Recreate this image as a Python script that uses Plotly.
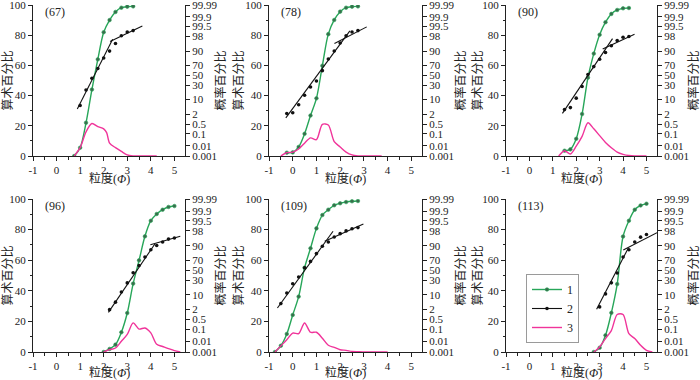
import plotly.graph_objects as go
from statistics import NormalDist

_nd = NormalDist()


def probit(pct):
    return _nd.inv_cdf(pct / 100.0)


panel_names = ["(67)", "(78)", "(90)", "(96)", "(109)", "(113)"]

# ---- curve 1 (cumulative %, also plotted as points 2 on probability scale)
phi_67 = [0.75, 1.0, 1.25, 1.5, 1.75, 2.0, 2.25, 2.5, 2.75, 3.0, 3.25]
cum_67 = [0, 5.5, 22, 44, 64, 82, 90, 95.4, 98.2, 98.9, 99.1]
phi_78 = [-0.25, 0.0, 0.25, 0.5, 0.75, 1.0, 1.25, 1.5, 1.75, 2.0, 2.25, 2.5, 2.75]
cum_78 = [2.2, 2.4, 6, 14.7, 26.8, 38.2, 59.8, 80.7, 90.1, 95.6, 98.2, 98.9, 99.1]
phi_90 = [1.5, 1.75, 2.0, 2.25, 2.5, 2.75, 3.0, 3.25, 3.5, 3.75, 4.0, 4.25]
cum_90 = [3.5, 4.4, 11.4, 27.8, 51.9, 67.8, 80.3, 88.6, 94.1, 96.7, 97.8, 98.0]
phi_96 = [2.0, 2.25, 2.5, 2.75, 3.0, 3.25, 3.5, 3.75, 4.0, 4.25, 4.5, 4.75, 5.0]
cum_96 = [0, 2, 4.8, 12.9, 25.5, 44.7, 59.9, 75.6, 85.8, 90.2, 93, 94.8, 95.4]
phi_109 = [-0.75, -0.5, -0.25, 0.0, 0.25, 0.5, 0.75, 1.0, 1.25, 1.5, 1.75, 2.0, 2.25, 2.5, 2.75]
cum_109 = [0, 4.1, 11.8, 24.2, 36.2, 55.1, 67.8, 80.8, 89.5, 93, 95.9, 97.2, 98, 98.5, 98.7]
phi_113 = [2.75, 3.0, 3.25, 3.5, 3.75, 4.0, 4.25, 4.5, 4.75, 5.0]
cum_113 = [0, 2.8, 10.9, 25.6, 44.4, 75.5, 85.8, 93, 95.8, 96.9]

# ---- curve 3 (frequency %)
fphi_67 = [0.75, 1.0, 1.25, 1.5, 1.75, 2.0, 2.125, 2.25, 2.5, 2.75, 3.0, 3.25, 3.5, 4.25]
freq_67 = [0, 5.5, 16, 21.5, 19.5, 18, 15.5, 8.5, 5.5, 3, 0.7, 0.1, 0, 0]
fphi_78 = [-0.5, -0.25, 0.0, 0.25, 0.5, 0.75, 1.0, 1.25, 1.5, 1.75, 2.0, 2.25, 2.5, 2.75, 3.0, 3.75]
freq_78 = [0, 2.2, 2.6, 4.6, 8.5, 12, 10.8, 21, 20.5, 9.5, 6, 2.6, 0.7, 0.1, 0, 0]
fphi_90 = [1.25, 1.5, 1.75, 2.0, 2.25, 2.5, 2.75, 3.0, 3.25, 3.5, 3.75, 4.0, 4.25, 4.5, 5.0]
freq_90 = [0, 3.5, 1.3, 6.5, 13, 22, 18, 13.5, 9, 5.5, 2.6, 1.1, 0.3, 0, 0]
fphi_96 = [2.0, 2.25, 2.5, 2.75, 3.0, 3.25, 3.5, 3.75, 4.0, 4.25, 4.5, 4.75, 5.0, 5.25]
freq_96 = [0, 1.5, 2.6, 7, 11.5, 19, 15, 15.7, 12.5, 5, 3.6, 2.2, 0.9, 0]
fphi_109 = [-0.75, -0.5, -0.25, 0.0, 0.25, 0.5, 0.75, 1.0, 1.25, 1.5, 1.75, 2.0, 2.25, 2.5, 2.75, 3.0, 4.0]
freq_109 = [0, 4, 8, 12.4, 12, 19, 12.9, 12.9, 9, 4.4, 3, 1.5, 1.1, 0.4, 0.2, 0, 0]
fphi_113 = [2.75, 3.0, 3.25, 3.5, 3.75, 4.0, 4.25, 4.5, 4.75, 5.0, 5.25]
freq_113 = [0, 3.3, 8.8, 14, 24.5, 24.5, 12, 8.8, 4.4, 1.1, 0]

# ---- fitted straight segments of curve 2 (phi, probability %)
fitA_x = [[0.88, 2.38], [-0.29, 2.41], [1.41, 3.55], [2.2, 4.17], [-0.645, 1.70], [2.87, 4.22]]
fitA_p = [[3.8, 97.2], [1.23, 99.06], [2.2, 97.4], [1.4, 91.5], [2.45, 97.9], [2.12, 87.5]]
fitB_x = [[2.27, 3.64], [1.76, 3.12], [3.13, 4.49], [3.98, 5.25], [1.35, 2.98], [4.01, 5.45]]
fitB_p = [[96.3, 99.55], [95.4, 99.48], [91.9, 98.5], [90.9, 96.2], [93.5, 99.2], [85.6, 97.5]]

x_ticks = [-1, 0, 1, 2, 3, 4, 5]
x_ticktext = ["-1", "0", "1", "2", "3", "4", "5"]
prob_ticks = [0.001, 0.01, 0.1, 0.5, 2, 10, 30, 50, 70, 90, 98, 99.5, 99.9, 99.99]
prob_ticktext = ["0.001", "0.01", "0.1", "0.5", "2", "10", "30", "50", "70", "90",
                 "98", "99.5", "99.9", "99.99"]

x_title = "粒度(<i>Φ</i>)"
left_title = "算术百分比"
right_title = "概率百分比"

series = [
    (phi_67, cum_67, fphi_67, freq_67),
    (phi_78, cum_78, fphi_78, freq_78),
    (phi_90, cum_90, fphi_90, freq_90),
    (phi_96, cum_96, fphi_96, freq_96),
    (phi_109, cum_109, fphi_109, freq_109),
    (phi_113, cum_113, fphi_113, freq_113),
]

GREEN = "#27a659"
GREEN_MK = "#3b6b4c"
PINK = "#f0349a"
BLACK = "#111111"
TXT = "#222222"
FONT = "Liberation Serif, Noto Sans CJK SC, serif"

W, H = 700, 380
xdom = [[33 / W, 185 / W], [269 / W, 422 / W], [506 / W, 657 / W]]
ydom = [[1 - 156 / H, 1 - 5 / H], [1 - 352 / H, 1 - 199 / H]]
left_title_x = [7, 238, 477]
right_title_x = [220, 460, 693]
xtitle_y = [178, 372]

fig = go.Figure()
layout = dict(
    width=W, height=H,
    margin=dict(l=0, r=0, t=0, b=0, autoexpand=False),
    paper_bgcolor="white", plot_bgcolor="white",
    font=dict(family=FONT, size=11, color=TXT),
    showlegend=True,
    legend=dict(x=526 / W, y=1 - 274 / H, xanchor="left", yanchor="top",
                bordercolor="#9a9a9a", borderwidth=1, bgcolor="white",
                font=dict(size=12, family=FONT, color=TXT),
                itemwidth=30, tracegroupgap=0, traceorder="normal"),
)
annotations = []

zlo, zhi = probit(0.001), probit(99.99)

for i, (px, pc, fx, fv) in enumerate(series):
    r, c = divmod(i, 3)
    xref = "x" if i == 0 else f"x{i+1}"
    xname = "xaxis" if i == 0 else f"xaxis{i+1}"
    nl, nr = 2 * i + 1, 2 * i + 2
    ylref = "y" if nl == 1 else f"y{nl}"
    ylname = "yaxis" if nl == 1 else f"yaxis{nl}"
    yrref, yrname = f"y{nr}", f"yaxis{nr}"
    first = i == 0

    fig.add_trace(go.Scatter(
        x=px, y=pc, xaxis=xref, yaxis=ylref, mode="lines+markers", name="1",
        line=dict(color=GREEN, width=1.4, shape="spline", smoothing=0.9),
        marker=dict(symbol="circle", size=3.6, color=GREEN_MK,
                    line=dict(color=GREEN, width=0.6)),
        showlegend=first, legendgroup="1", legendrank=1))
    fig.add_trace(go.Scatter(
        x=fx, y=fv, xaxis=xref, yaxis=ylref, mode="lines", name="3",
        line=dict(color=PINK, width=1.4, shape="spline", smoothing=0.8),
        showlegend=first, legendgroup="3", legendrank=3))
    bx = [x for x, v in zip(px, pc) if v > 0.001]
    bz = [probit(v) for v in pc if v > 0.001]
    fig.add_trace(go.Scatter(
        x=bx, y=bz, xaxis=xref, yaxis=yrref, mode="markers", name="2",
        marker=dict(symbol="circle", size=3.6, color=BLACK),
        showlegend=False, legendgroup="2"))
    lx = fitA_x[i] + [None] + fitB_x[i]
    lz = [probit(p) for p in fitA_p[i]] + [None] + [probit(p) for p in fitB_p[i]]
    fig.add_trace(go.Scatter(
        x=lx, y=lz, xaxis=xref, yaxis=yrref, mode="lines", name="2",
        line=dict(color=BLACK, width=1.1), showlegend=False, legendgroup="2"))
    if first:
        fig.add_trace(go.Scatter(
            x=[None], y=[None], xaxis=xref, yaxis=yrref, mode="lines+markers",
            name="2", line=dict(color=BLACK, width=1.1),
            marker=dict(size=3.6, color=BLACK), legendgroup="2", legendrank=2))

    common = dict(automargin=False, ticklabeloverflow="allow", ticks="outside",
                  ticklen=4, tickcolor=TXT, showline=True, linecolor=TXT, linewidth=1,
                  showgrid=False, zeroline=False)
    layout[xname] = dict(
        domain=xdom[c], anchor=ylref, range=[-1, 5.45],
        tickmode="array", tickvals=x_ticks, ticktext=x_ticktext,
        minor=dict(dtick=0.5, tick0=0, ticks="outside", ticklen=2.5, tickcolor=TXT),
        **common)
    layout[ylname] = dict(
        domain=ydom[r], anchor=xref, range=[0, 100], dtick=20, tick0=0,
        minor=dict(dtick=10, ticks="outside", ticklen=2.5, tickcolor=TXT),
        **common)
    layout[yrname] = dict(
        anchor=xref, overlaying=ylref, side="right", range=[zlo, zhi],
        tickmode="array", tickvals=[probit(p) for p in prob_ticks], ticktext=prob_ticktext,
        **common)
    # panel label
    annotations.append(dict(
        text=panel_names[i], x=0.068, y=0.955, xref=f"{xref} domain",
        yref=f"{ylref} domain", xanchor="left", yanchor="middle", showarrow=False,
        font=dict(size=12, family=FONT, color=TXT)))
    # axis titles
    ymid = sum(ydom[r]) / 2
    tfont = dict(size=12, family=FONT, color=TXT)
    annotations.append(dict(
        text=left_title, x=left_title_x[c] / W, y=ymid, xref="paper", yref="paper",
        xanchor="center", yanchor="middle", textangle=-90, showarrow=False, font=tfont))
    annotations.append(dict(
        text=right_title, x=right_title_x[c] / W, y=ymid, xref="paper", yref="paper",
        xanchor="center", yanchor="middle", textangle=-90, showarrow=False, font=tfont))
    annotations.append(dict(
        text=x_title, x=sum(xdom[c]) / 2, y=1 - xtitle_y[r] / H, xref="paper", yref="paper",
        xanchor="center", yanchor="middle", showarrow=False, font=tfont))

layout["annotations"] = annotations
fig.update_layout(**layout)
fig.write_html("out.html", config={"displayModeBar": False},
               post_script="document.body.style.margin='0px';")
